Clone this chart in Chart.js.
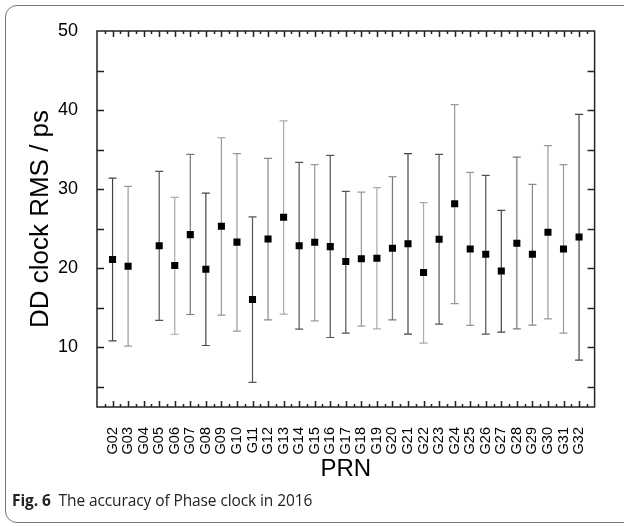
<!DOCTYPE html>
<html><head><meta charset="utf-8">
<script src="https://cdn.jsdelivr.net/npm/chart.js@4"></script>
<style>
html,body{margin:0;padding:0;background:#fff;}
body{width:624px;height:526px;position:relative;overflow:hidden;}
#frame{position:absolute;left:5px;top:5px;width:700px;height:516px;border:1px solid #777;border-radius:12px;}
#wrap{position:absolute;left:0;top:0;width:624px;height:490px;}
#cap{position:absolute;left:12px;top:489px;font-family:'Open Sans',sans-serif;font-size:15.5px;color:#222;white-space:nowrap;letter-spacing:-0.1px;}
</style></head>
<body>
<div id="frame"></div>
<div id="wrap"><canvas id="c" width="624" height="490"></canvas></div>
<div id="cap"><b>Fig. 6</b>&nbsp; The accuracy of Phase clock in 2016</div>
<script>
const categories = ['G02','G03','G04','G05','G06','G07','G08','G09','G10','G11','G12','G13','G14','G15','G16','G17','G18','G19','G20','G21','G22','G23','G24','G25','G26','G27','G28','G29','G30','G31','G32'];
const rms   = [21.1, 20.25, null, 22.85, 20.35, 24.25, 19.87, 25.3, 23.3, 16.04, 23.7, 26.44, 22.85, 23.28, 22.73, 20.84, 21.2, 21.26, 22.52, 23.1, 19.45, 23.66, 28.16, 22.44, 21.77, 19.66, 23.15, 21.77, 24.54, 22.44, 23.95];
const lower = [10.8, 10.15, null, 13.4, 11.65, 14.15, 10.23, 14.07, 12.05, 5.56, 13.47, 14.19, 12.3, 13.35, 11.24, 11.79, 12.68, 12.34, 13.47, 11.67, 10.53, 12.92, 15.53, 12.76, 11.67, 11.92, 12.34, 12.8, 13.6, 11.79, 8.38];
const upper = [31.4, 30.35, null, 32.25, 28.95, 34.4, 29.5, 36.5, 34.5, 26.5, 33.9, 38.64, 33.38, 33.1, 34.27, 29.72, 29.63, 30.2, 31.57, 34.5, 28.29, 34.39, 40.7, 32.12, 31.74, 27.32, 34.05, 30.6, 35.5, 33.1, 39.45];
const yTickValues = [10, 20, 30, 40, 50];

// styles (kept apart from data)
const barColors = ['#444','#999',null,'#555','#aaa','#777','#444','#999','#999','#555','#888','#aaa','#555','#999','#555','#555','#999','#aaa','#777','#444','#aaa','#555','#999','#999','#555','#444','#777','#888','#999','#999','#444'];
const FIRST_X = 2;

const points = [];
rms.forEach((v, i) => { if (v !== null) points.push({x: i + FIRST_X, y: v}); });

const frameTicks = {
  id: 'frameTicks',
  beforeDatasetsDraw(chart) {
    const {ctx, scales: {x, y}} = chart;
    ctx.save();
    lower.forEach((lo, i) => {
      if (lo === null) return;
      const px = x.getPixelForValue(i + FIRST_X);
      const pl = y.getPixelForValue(lo), pu = y.getPixelForValue(upper[i]);
      ctx.strokeStyle = barColors[i];
      ctx.lineWidth = 1.2;
      ctx.beginPath();
      ctx.moveTo(px, pl); ctx.lineTo(px, pu);
      ctx.moveTo(px - 4, pl); ctx.lineTo(px + 4, pl);
      ctx.moveTo(px - 4, pu); ctx.lineTo(px + 4, pu);
      ctx.stroke();
    });
    ctx.restore();
  },
  afterDraw(chart) {
    const {ctx, chartArea: a, scales: {x, y}} = chart;
    ctx.save();
    ctx.strokeStyle = '#222';
    ctx.lineWidth = 1.5;
    ctx.strokeRect(a.left, a.top, a.right - a.left, a.bottom - a.top);
    ctx.beginPath();
    for (let v = 5; v <= 45; v += 5) {
      const py = Math.round(y.getPixelForValue(v)) + 0.5;
      ctx.moveTo(a.left, py); ctx.lineTo(a.left + 7, py);
      ctx.moveTo(a.right, py); ctx.lineTo(a.right - 7, py);
    }
    for (let v = x.min + 0.5; v < x.max; v += 0.5) {
      const px = Math.round(x.getPixelForValue(v)) + 0.5;
      const len = Number.isInteger(v) ? 6 : 3;
      ctx.moveTo(px, a.bottom); ctx.lineTo(px, a.bottom - len);
      ctx.moveTo(px, a.top); ctx.lineTo(px, a.top + len);
    }
    ctx.stroke();
    ctx.restore();
  }
};

new Chart(document.getElementById('c'), {
  type: 'scatter',
  data: {
    datasets: [{
      data: points,
      pointStyle: 'rect',
      pointRadius: 5,
      pointBorderWidth: 0,
      backgroundColor: '#000',
      borderColor: '#000'
    }]
  },
  options: {
    responsive: false,
    animation: false,
    events: [],
    layout: {padding: {left: 0, top: 31, right: 21, bottom: 0}},
    plugins: {legend: {display: false}, tooltip: {enabled: false}},
    scales: {
      x: {
        type: 'linear', min: 1, max: 33,
        grid: {display: false},
        border: {display: false},
        afterFit(s) { s.height = 83; },
        ticks: {
          stepSize: 1, autoSkip: false, minRotation: 90, maxRotation: 90, padding: 12,
          color: '#000', font: {family: 'Liberation Sans', size: 14.5},
          callback: v => (v >= FIRST_X && v < FIRST_X + categories.length && Number.isInteger(v)) ? categories[v - FIRST_X] : ''
        },
        title: {display: true, text: 'PRN', color: '#000', font: {family: 'Liberation Sans', size: 24}, padding: {top: 0, bottom: 6}}
      },
      y: {
        type: 'linear', min: 2.45, max: 50,
        grid: {display: false},
        border: {display: false},
        afterFit(s) { s.width = 97; },
        afterBuildTicks(s) { s.ticks = yTickValues.map(v => ({value: v})); },
        ticks: {
          padding: 11, color: '#000', font: {family: 'Liberation Sans', size: 18},
          callback: v => String(v)
        },
        title: {display: true, text: 'DD clock RMS / ps', color: '#000', font: {family: 'Liberation Sans', size: 26}, padding: {top: 25, bottom: 0}}
      }
    }
  },
  plugins: [frameTicks]
});
</script>
</body></html>
